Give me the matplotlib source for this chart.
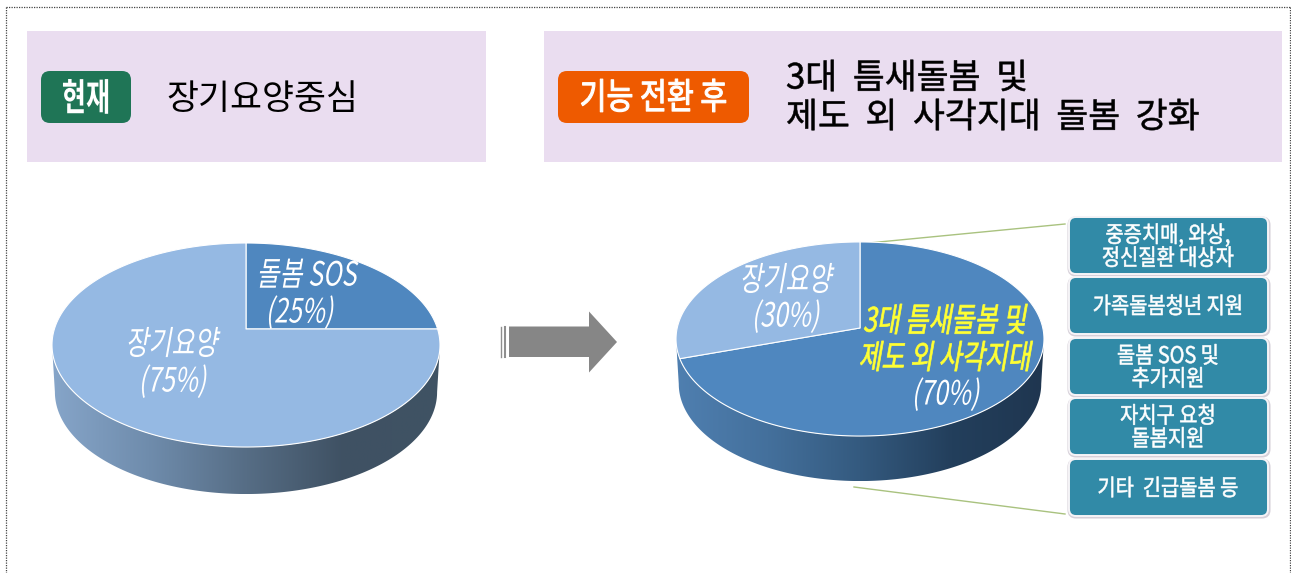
import numpy as np
import matplotlib
matplotlib.use("Agg")
import matplotlib.pyplot as plt
from matplotlib.colors import LinearSegmentedColormap
from matplotlib.patches import FancyBboxPatch, Polygon, Rectangle
from matplotlib.patheffects import AbstractPathEffect
from matplotlib.transforms import Affine2D

plt.rcParams['font.family'] = ['Noto Sans CJK KR', 'DejaVu Sans']

# data
left_values = [25, 75]
left_colors = ["#4f87bf", "#95b9e3"]
right_values = [70, 30]
right_colors = ["#4f87bf", "#95b9e3"]
box_labels = ["중증치매, 와상,\n정신질환 대상자", "가족돌봄청년 지원", "돌봄 SOS 및\n추가지원",
              "자치구 요청\n돌봄지원", "기타  긴급돌봄 등"]
box_tops = [217, 277, 338, 398, 459]

W, H = 1291, 573
fig = plt.figure(figsize=(W / 100, H / 100), dpi=100)
ax = fig.add_axes([0, 0, 1, 1])
ax.set_xlim(0, W)
ax.set_ylim(H, 0)
ax.axis("off")


class Squeeze(AbstractPathEffect):
    # narrows and slants a text around its anchor, the pie labels are fake italic
    def __init__(self, x, y, sx=1.0, shear=0, stroke=0):
        self.px, self.py = ax.transData.transform((x, y))
        self.sx = sx
        self.shear = shear
        self.stroke = stroke

    def draw_path(self, renderer, gc, tpath, affine, rgbFace=None):
        extra = (Affine2D().translate(-self.px, -self.py).scale(self.sx, 1)
                 .skew_deg(self.shear, 0).translate(self.px, self.py))
        gc0 = renderer.new_gc()
        gc0.copy_properties(gc)
        if self.stroke:
            gc0.set_linewidth(self.stroke)
            gc0.set_foreground(rgbFace)
        renderer.draw_path(gc0, tpath, affine + extra, rgbFace)
        gc0.restore()


def label(x, y, s, size, color="black", sx=1.0, shear=0, weight="normal", ha="center", z=10, stroke=0):
    t = ax.text(x, y, s, fontsize=size, color=color, ha=ha, va="center", weight=weight, zorder=z)
    if sx != 1.0 or shear != 0 or stroke:
        t.set_path_effects([Squeeze(x, y, sx, shear, stroke)])
    return t


def ring(theta, cx, ay, sx, sy, k):
    # circle seen in perspective, the apex is not the middle of the ellipse
    u, v = np.cos(theta), np.sin(theta)
    w = 1 + k * v
    return cx + sx * u / w, ay - sy * v / w


def pie3d(values, colors, cx, ay, sx, sy, k, depth, stops):
    theta = np.radians(np.linspace(0, 360, 721))
    x, y = ring(theta, cx, ay, sx, sy, k)

    # side wall: front part of the rim and the same rim moved down
    i, j = np.argmin(x), np.argmax(x)
    order = np.arange(i, j + 1)
    fx, fy = x[order], y[order]
    lx = cx + (fx - cx) * 0.985
    wall = np.column_stack([np.r_[fx, lx[::-1]], np.r_[fy, fy[::-1] + depth]])
    patch = Polygon(wall, closed=True, fc="none", ec="none", zorder=2)
    ax.add_patch(patch)
    cmap = LinearSegmentedColormap.from_list("side", stops)
    im = ax.imshow(np.linspace(0, 1, 256).reshape(1, -1), cmap=cmap, aspect="auto", zorder=2,
                   extent=[x.min(), x.max(), y.max() + depth, y.min()])
    im.set_clip_path(patch)

    # slices run clockwise from 12 o'clock
    start = 90.0
    for val, col in zip(values, colors):
        end = start - 360.0 * val / sum(values)
        t = np.radians(np.linspace(start, end, 200))
        px, py = ring(t, cx, ay, sx, sy, k)
        pts = np.column_stack([np.r_[cx, px], np.r_[ay, py]])
        ax.add_patch(Polygon(pts, closed=True, fc=col, ec="white", lw=0.8, zorder=3, joinstyle="round"))
        start = end


# dotted frame
ax.plot([6, 6], [7, H], color="#444444", lw=0.9, ls=(0, (1, 1)))
ax.plot([6, 1289.5], [7, 7], color="#444444", lw=0.9, ls=(0, (1, 1)))
ax.plot([1289.5, 1289.5], [7, H], color="#444444", lw=0.9, ls=(0, (1, 1)))

# header panels
ax.add_patch(Rectangle((27, 31), 459, 131, fc="#eaddf0", ec="none"))
ax.add_patch(Rectangle((544, 31), 738, 131, fc="#eaddf0", ec="none"))
ax.add_patch(FancyBboxPatch((48, 78), 76, 38, boxstyle="round,pad=7,rounding_size=9", fc="#1f7556", ec="none", zorder=2))
ax.add_patch(FancyBboxPatch((565, 78), 177, 38, boxstyle="round,pad=7,rounding_size=9", fc="#ee5a00", ec="none", zorder=2))
label(86, 99, "현재", 27, "white", sx=0.7, weight="bold")
label(653.5, 99, "기능 전환 후", 26, "white", sx=0.81, stroke=0.8)
label(166, 99, "장기요양중심", 25, ha="left")
label(786, 79, "3대  틈새돌봄  및", 25, ha="left", stroke=0.4)
label(786, 118, "제도  외  사각지대  돌봄  강화", 25, ha="left", stroke=0.4)

# pies
pie3d(left_values, left_colors, 246, 329, 191.6, 99.5, 0.157, 47,
      ["#86a5c9", "#6f8cac", "#566d85", "#3f5163", "#3f5364"])
pie3d(right_values, right_colors, 860, 328, 182.8, 95.8, 0.1134, 45,
      ["#4f7fb0", "#44709c", "#345a7f", "#233f5c", "#1f3650"])

label(308, 276, "돌봄 SOS", 24, "white", sx=0.75, shear=10)
label(301, 313, "(25%)", 24, "white", sx=0.75, shear=10)
label(173, 345, "장기요양", 24, "white", sx=0.75, shear=10)
label(174, 382, "(75%)", 24, "white", sx=0.75, shear=10)
label(787, 281, "장기요양", 24, "white", sx=0.75, shear=10)
label(787, 317, "(30%)", 24, "white", sx=0.75, shear=10)
label(946, 322, "3대 틈새돌봄 및", 24, "#ffff33", sx=0.75, shear=10, stroke=0.5)
label(946, 359, "제도 외 사각지대", 24, "#ffff33", sx=0.75, shear=10, stroke=0.5)
label(947, 395, "(70%)", 24, "white", sx=0.75, shear=10)

# arrow
ax.add_patch(Polygon([(509, 326.5), (589, 326.5), (589, 311.5), (617, 342), (589, 372.5), (589, 357), (509, 357)],
                     closed=True, fc="#868686", ec="none"))
for xs, lw in zip([501.2, 505], [1.0, 1.5]):
    ax.plot([xs, xs], [326.5, 357], color="#8e8e8e", lw=lw)

# green leader lines
ax.plot([868.5, 1065], [243, 224], color="#a9c27f", lw=1)
ax.plot([854, 1065], [487, 514], color="#a9c27f", lw=1)

# boxes on the right
for top, txt in zip(box_tops, box_labels):
    ax.add_patch(FancyBboxPatch((1073, top + 5), 192, 49, boxstyle="round,pad=4,rounding_size=7",
                                fc="#c9c3cc", ec="#d6d0d9", lw=2.2, zorder=4))
    ax.add_patch(FancyBboxPatch((1073, top + 4), 191, 49, boxstyle="round,pad=4,rounding_size=7",
                                fc="#318aa7", ec="#f6f4f7", lw=1.4, zorder=5))
    label(1168, top + 30, txt, 16.5, "white", sx=0.865, z=6, stroke=0.4).set_linespacing(1.0)

fig.savefig("out.png", dpi=100)
